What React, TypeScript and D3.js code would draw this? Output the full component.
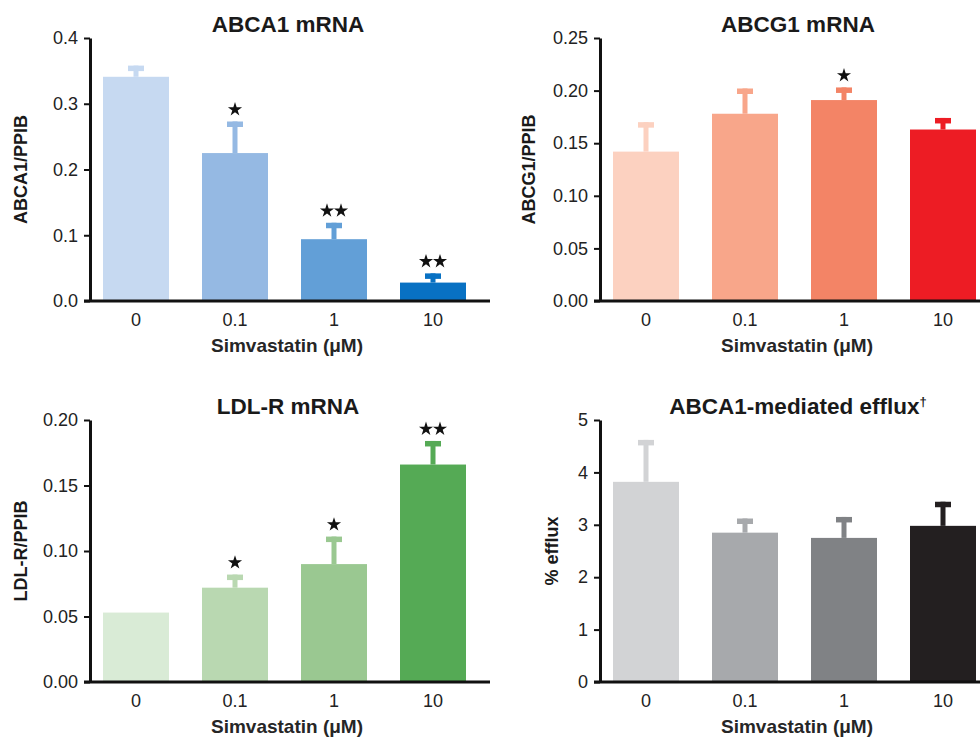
import React, { useEffect, useRef } from 'react';
import * as d3 from 'd3';

// doses on the x axis
const doses = ['0', '0.1', '1', '10'];

// ABCA1 mRNA
const abca1Mean = [0.341, 0.225, 0.094, 0.028];
const abca1Sem = [0.017, 0.048, 0.025, 0.014];
const abca1Stars = [0, 1, 2, 2];
const abca1Ticks = [0, 0.1, 0.2, 0.3, 0.4];
const abca1Colors = ['#c6d9f1', '#95b9e3', '#629fd7', '#0871c3'];

// ABCG1 mRNA
const abcg1Mean = [0.142, 0.178, 0.191, 0.163];
const abcg1Sem = [0.028, 0.024, 0.012, 0.011];
const abcg1Stars = [0, 0, 1, 0];
const abcg1Ticks = [0, 0.05, 0.1, 0.15, 0.2, 0.25];
const abcg1Colors = ['#fcd1c0', '#f8a68a', '#f38466', '#ed1c24'];

// LDL-R mRNA
const ldlrMean = [0.053, 0.072, 0.09, 0.166];
const ldlrSem = [0, 0.01, 0.021, 0.018];
const ldlrStars = [0, 1, 1, 2];
const ldlrTicks = [0, 0.05, 0.1, 0.15, 0.2];
const ldlrColors = ['#d9ebd6', '#b9d8b1', '#9ac891', '#55aa55'];

// ABCA1-mediated efflux
const effluxMean = [3.82, 2.85, 2.75, 2.98];
const effluxSem = [0.8, 0.27, 0.4, 0.46];
const effluxStars = [0, 0, 0, 0];
const effluxTicks = [0, 1, 2, 3, 4, 5];
const effluxColors = ['#d2d3d5', '#a7a9ac', '#808285', '#231f20'];

const FONT = '"Liberation Sans", Arial, Helvetica, sans-serif';

function Panel(props) {
  const ref = useRef(null);

  useEffect(() => {
    const p = props;
    const g = d3.select(ref.current);
    g.selectAll('*').remove();

    const x = d3.scaleBand()
      .domain(doses)
      .range([p.left - 3.5, p.left + 392.5])
      .paddingInner(1 / 3)
      .paddingOuter(1 / 6);

    const y = d3.scaleLinear()
      .domain([0, p.ticks[p.ticks.length - 1]])
      .range([p.bottom, p.top]);

    const data = doses.map((d, i) => ({
      dose: d, mean: p.mean[i], sem: p.sem[i], stars: p.stars[i], color: p.colors[i]
    }));

    // bars
    g.selectAll('.bar').data(data).join('rect')
      .attr('class', 'bar')
      .attr('x', d => x(d.dose))
      .attr('y', d => y(d.mean))
      .attr('width', x.bandwidth())
      .attr('height', d => y(0) - y(d.mean))
      .attr('fill', d => d.color);

    // error bars (upper only)
    const eb = data.filter(d => d.sem > 0);
    g.selectAll('.stem').data(eb).join('rect')
      .attr('class', 'stem')
      .attr('x', d => x(d.dose) + x.bandwidth() / 2 - 2.5)
      .attr('y', d => y(d.mean + d.sem))
      .attr('width', 5)
      .attr('height', d => y(d.mean) - y(d.mean + d.sem))
      .attr('fill', d => d.color);
    g.selectAll('.cap').data(eb).join('rect')
      .attr('class', 'cap')
      .attr('x', d => x(d.dose) + x.bandwidth() / 2 - 8)
      .attr('y', d => y(d.mean + d.sem))
      .attr('width', 16)
      .attr('height', 5.5)
      .attr('fill', d => d.color);

    // significance stars
    const star = d3.symbol(d3.symbolStar, 62);
    data.forEach(d => {
      for (let k = 0; k < d.stars; k++) {
        const cx = x(d.dose) + x.bandwidth() / 2 + (k - (d.stars - 1) / 2) * 14;
        g.append('path')
          .attr('d', star())
          .attr('transform', `translate(${cx},${y(d.mean + d.sem) - 12})`)
          .attr('fill', '#111');
      }
    });

    // y axis
    const yAxis = g.append('g')
      .attr('transform', `translate(${p.left},0)`)
      .call(d3.axisLeft(y).tickValues(p.ticks).tickFormat(d3.format(p.fmt)).tickSize(6).tickSizeOuter(0).tickPadding(6));
    yAxis.select('.domain').attr('stroke', '#111').attr('stroke-width', 3);
    yAxis.selectAll('.tick line').attr('stroke', '#111').attr('stroke-width', 2);
    yAxis.selectAll('.tick text')
      .attr('fill', '#222')
      .style('font-family', FONT)
      .style('font-size', '18px');

    // x axis
    const xAxis = g.append('g')
      .attr('transform', `translate(0,${p.bottom})`)
      .call(d3.axisBottom(x).tickSize(0).tickPadding(12));
    xAxis.select('.domain').remove();
    xAxis.selectAll('.tick text')
      .attr('fill', '#222')
      .style('font-family', FONT)
      .style('font-size', '18px');
    g.append('line')
      .attr('x1', p.left - 6)
      .attr('x2', p.left + 400)
      .attr('y1', p.bottom)
      .attr('y2', p.bottom)
      .attr('stroke', '#111')
      .attr('stroke-width', 3);

    const mid = p.left + 196;

    const title = g.append('text')
      .attr('x', mid + 2)
      .attr('y', p.top - 6)
      .attr('text-anchor', 'middle')
      .style('font-family', FONT)
      .style('font-size', '22.5px')
      .style('font-weight', 'bold')
      .attr('fill', '#1a1a1a')
      .text(p.title);
    if (p.mark) {
      title.append('tspan')
        .attr('dy', -8)
        .style('font-size', '13px')
        .text(p.mark);
    }

    g.append('text')
      .attr('x', mid + 1)
      .attr('y', p.bottom + 51)
      .attr('text-anchor', 'middle')
      .style('font-family', FONT)
      .style('font-size', '19px')
      .style('font-weight', 'bold')
      .attr('fill', '#262626')
      .text('Simvastatin (μM)');

    g.append('text')
      .attr('transform', `translate(${p.left - p.yTitleOffset},${(p.top + p.bottom) / 2}) rotate(-90)`)
      .attr('text-anchor', 'middle')
      .style('font-family', FONT)
      .style('font-size', '18px')
      .style('font-weight', 'bold')
      .attr('fill', '#1a1a1a')
      .text(p.yLabel);
  }, [props]);

  return <g ref={ref}></g>;
}

export default function App() {
  return (
    <svg width={980} height={737} style={{ position: 'absolute', left: 0, top: 0, background: '#fff' }}>
      <Panel title="ABCA1 mRNA" yLabel="ABCA1/PPIB" left={90} top={38} bottom={301}
        mean={abca1Mean} sem={abca1Sem} stars={abca1Stars} colors={abca1Colors}
        ticks={abca1Ticks} fmt=".1f" yTitleOffset={63} />
      <Panel title="ABCG1 mRNA" yLabel="ABCG1/PPIB" left={600} top={38} bottom={301}
        mean={abcg1Mean} sem={abcg1Sem} stars={abcg1Stars} colors={abcg1Colors}
        ticks={abcg1Ticks} fmt=".2f" yTitleOffset={65} />
      <Panel title="LDL-R mRNA" yLabel="LDL-R/PPIB" left={90} top={420} bottom={682}
        mean={ldlrMean} sem={ldlrSem} stars={ldlrStars} colors={ldlrColors}
        ticks={ldlrTicks} fmt=".2f" yTitleOffset={63} />
      <Panel title="ABCA1-mediated efflux" mark="†" yLabel="% efflux" left={600} top={420} bottom={682}
        mean={effluxMean} sem={effluxSem} stars={effluxStars} colors={effluxColors}
        ticks={effluxTicks} fmt="d" yTitleOffset={42} />
    </svg>
  );
}
